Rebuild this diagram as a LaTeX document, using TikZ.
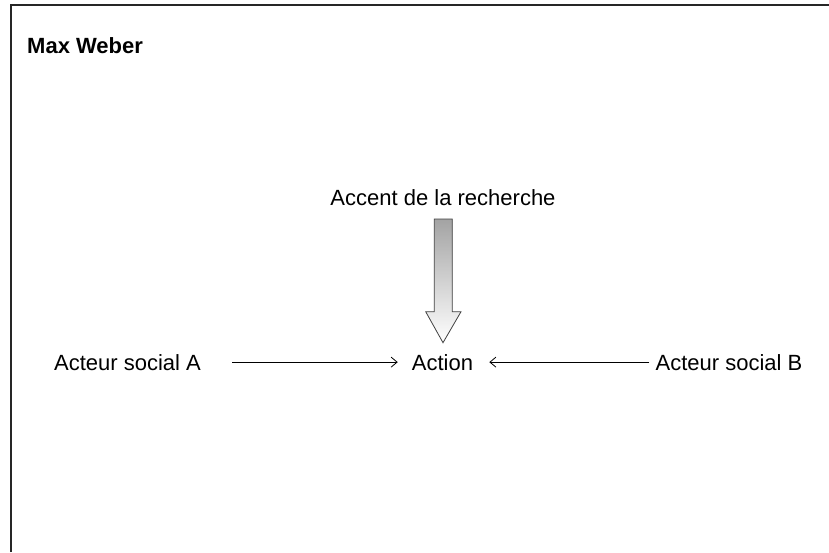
\documentclass[tikz,border=0pt]{standalone}
\usepackage{fontspec}
\setmainfont{Liberation Sans}
\usetikzlibrary{arrows.meta}
\begin{document}
\begin{tikzpicture}[x=1pt,y=-1pt,
  label/.style={inner sep=0pt, font=\fontsize{22}{26}\selectfont},
  link/.style={line width=0.8pt, -{Straight Barb[length=6pt,width=10pt,line width=0.8pt]}},
  frameline/.style={line width=1.4pt, draw=black!85}]
  \useasboundingbox (0,0) rectangle (829,552);
  % partial frame: top and left edges
  \draw[frameline] (11,552) -- (11,5) -- (829,5);
  % title
  \node[label, anchor=base west, font=\fontsize{22}{26}\selectfont\bfseries] (title) at (27,53) {Max Weber};
  % labels
  \node[label, anchor=base] (accent) at (443,205) {Accent de la recherche};
  \node[label, anchor=base] (actA) at (127.5,370) {Acteur social A};
  \node[label, anchor=base] (action) at (442.5,370) {Action};
  \node[label, anchor=base] (actB) at (729,370) {Acteur social B};
  % hollow block arrow pointing at the action
  \shade[top color=black!36, bottom color=white, draw=black!75, line width=0.8pt]
    (434.3,219) -- (452.3,219) -- (452.3,311.7) -- (461,311.7) -- (443,342.7)
    -- (425.7,311.7) -- (434.3,311.7) -- cycle;
  % connectors towards the action
  \draw[link, shorten <=31pt, shorten >=14pt] (actA.east) -- (action.west);
  \draw[link, shorten <=6pt, shorten >=16pt] (actB.west) -- (action.east);
\end{tikzpicture}
\end{document}
